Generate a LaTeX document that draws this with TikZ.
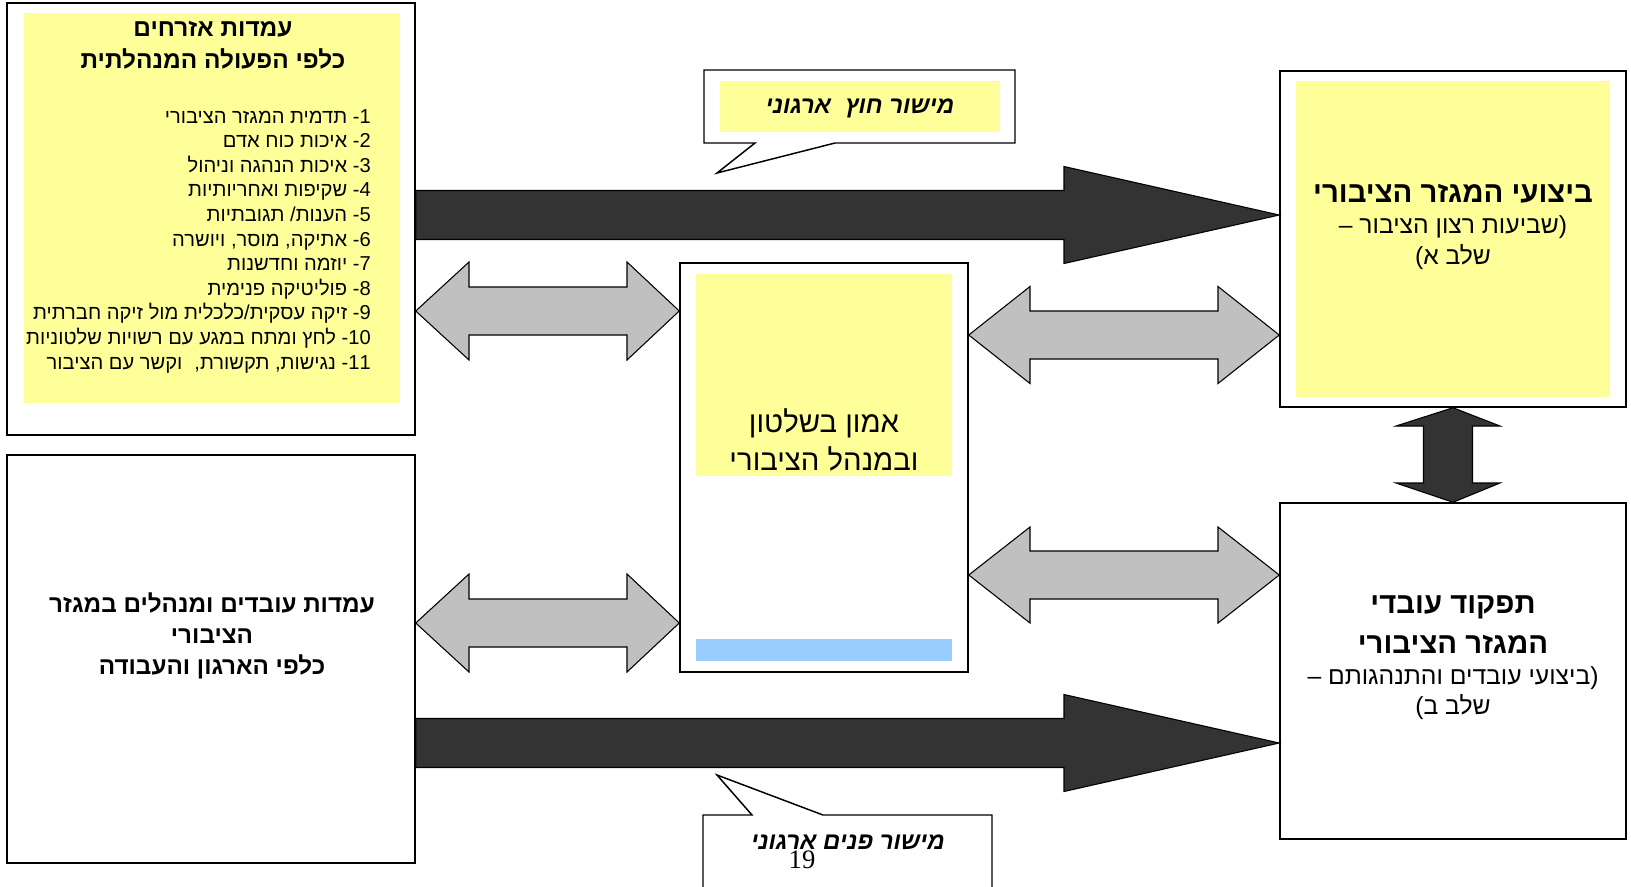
\documentclass[tikz,border=0pt]{standalone}
\usepackage{fontspec}
\setmainfont{Liberation Sans}[Script=Hebrew]
\newfontfamily\tnrfont{Liberation Serif}
\usetikzlibrary{fit,calc}
\TeXXeTstate=1
\definecolor{lyellow}{HTML}{FFFF99}
\definecolor{dgray}{HTML}{333333}
\definecolor{lgray}{HTML}{C0C0C0}
\definecolor{lblue}{HTML}{99CCFF}
\tikzset{
  frame/.style={draw=black,line width=1.1pt,fill=white,inner sep=0pt},
  yel/.style={fill=lyellow,inner sep=0pt},
  blu/.style={fill=lblue,inner sep=0pt},
  grayarrow/.style={fill=lgray,draw=black,line width=0.8pt,line join=miter},
  darkarrow/.style={fill=dgray,draw=black,line width=0.8pt,line join=miter},
  txt/.style={inner sep=0pt,align=center},
  bigb/.style={txt,font=\bfseries\fontsize{22}{26}\selectfont},
  medr/.style={txt,font=\fontsize{18.5}{22}\selectfont},
  callt/.style={txt,font=\bfseries\itshape\fontsize{18}{22}\selectfont},
}
\newcommand\hdblarrow[7]{%
  \path[grayarrow] (#1 |- 0,#3) -- (#4,#3-#6) -- (#4,#3-#7) -- (#5,#3-#7) -- (#5,#3-#6)
    -- (#2 |- 0,#3) -- (#5,#3+#6) -- (#5,#3+#7) -- (#4,#3+#7) -- (#4,#3+#6) -- cycle;}
\newcommand\bigrarrow[5]{%
  \path[darkarrow] (#1 |- 0,#3-#5) -- (#4,#3-#5) -- (#4,#3-48.5) -- (#2 |- 0,#3)
    -- (#4,#3+48.5) -- (#4,#3+#5) -- (#1 |- 0,#3+#5) -- cycle;}
\begin{document}
\begin{tikzpicture}[x=0.75pt,y=-0.75pt]
\useasboundingbox[fill=white] (0,0) rectangle (1631,886);
\clip (0,0) rectangle (1631,886);

% ---- boxes
\node[frame,fit={(7,3) (415,435)}] (ltop) {};
\node[yel,fit={(24,13) (400,403)}] (ltopy) {};
\node[frame,fit={(7,455) (415,863)}] (lbot) {};
\node[frame,fit={(680,263) (968,672)}] (mid) {};
\node[yel,fit={(696,274) (952,476)}] (midy) {};
\node[blu,fit={(696,639) (952,661)}] (midb) {};
\node[frame,fit={(1280,71) (1626,407)}] (rtop) {};
\node[yel,fit={(1296,81) (1610,397)}] (rtopy) {};
\node[frame,fit={(1280,503) (1626,839)}] (rbot) {};

% ---- callouts
\path[frame] (704,70) -- (1015,70) -- (1015,143) -- (835,143) -- (717,173) -- (755,143) -- (704,143) -- cycle;
\node[yel,fit={(720,81) (1000,132)}] (cout) {};
\path[frame] (703,900) -- (703,815) -- (752,815) -- (717,775) -- (823,815) -- (992,815) -- (992,900) -- cycle;
\coordinate (cin) at (848,842);

% ---- arrows
\bigrarrow{ltop.east}{rtop.west}{215}{1064}{24.5}
\bigrarrow{lbot.east}{rbot.west}{743}{1064}{24.5}
\hdblarrow{ltop.east}{mid.west}{311}{469}{627}{49}{24}
\hdblarrow{lbot.east}{mid.west}{623}{469}{627}{49}{24}
\hdblarrow{mid.east}{rtop.west}{335}{1030}{1218}{48.5}{24}
\hdblarrow{mid.east}{rbot.west}{575}{1030}{1218}{48}{24}
\path[darkarrow] (rtop.south) -- (1500,426) -- (1472.5,426) -- (1472.5,483) -- (1500,483)
  -- (rbot.north) -- (1396,483) -- (1423.5,483) -- (1423.5,426) -- (1396,426) -- cycle;

% ---- texts
\node[txt,font=\bfseries\fontsize{18.3}{24}\selectfont] (t1) at (213,45)
  {\beginR עמדות אזרחים\endR\\\beginR כלפי הפעולה המנהלתית\endR};
\node[inner sep=0pt,align=right,anchor=east,font=\fontsize{15.1}{18.45}\selectfont] (t2) at (371,241)
  {\beginR 1- תדמית המגזר הציבורי\endR\\
   \beginR 2- איכות כוח אדם\endR\\
   \beginR 3- איכות הנהגה וניהול\endR\\
   \beginR 4- שקיפות ואחריותיות\endR\\
   \beginR 5- הענות/ תגובתיות\endR\\
   \beginR 6- אתיקה, מוסר, ויושרה\endR\\
   \beginR 7- יוזמה וחדשנות\endR\\
   \beginR 8- פוליטיקה פנימית\endR\\
   \beginR 9- זיקה עסקית/כלכלית מול זיקה חברתית\endR\\
   \beginR\beginL10\endL- לחץ ומתח במגע עם רשויות שלטוניות\endR\\
   \beginR\beginL11\endL- נגישות, תקשורת,\hspace{0.6em}וקשר עם הציבור\endR};
\node[callt] (t3) at ($(cout.center)+(0,2)$)
  {\beginR מישור חוץ\hspace{0.6em}ארגוני\endR};
\node[callt] (t4) at (cin) {\beginR מישור פנים ארגוני\endR};
\node[txt,font=\tnrfont\fontsize{20}{24}\selectfont] (pg) at (802,860) {19};
\node[txt,font=\fontsize{22}{28}\selectfont] (t5) at (824,440)
  {\beginR אמון בשלטון\endR\\\beginR ובמנהל הציבורי\endR};
% right top
\node[bigb] (t6a) at (1453,194) {\beginR ביצועי המגזר הציבורי\endR};
\node[medr] (t6b) at (1453,227) {\beginR (שביעות רצון הציבור –\endR};
\node[medr] (t6c) at (1453,257) {\beginR שלב א)\endR};
% right bottom
\node[bigb] (t7a) at (1453,607) {\beginR תפקוד עובדי\endR};
\node[bigb] (t7b) at (1453,644) {\beginR המגזר הציבורי\endR};
\node[medr] (t7c) at (1453,678) {\beginR (ביצועי עובדים והתנהגותם –\endR};
\node[medr] (t7d) at (1453,707) {\beginR שלב ב)\endR};
% left bottom
\node[txt,font=\bfseries\fontsize{18.2}{23}\selectfont] (t8) at (212,636)
  {\beginR עמדות עובדים ומנהלים במגזר\endR\\\beginR הציבורי\endR\\\beginR כלפי הארגון והעבודה\endR};
\end{tikzpicture}
\end{document}
